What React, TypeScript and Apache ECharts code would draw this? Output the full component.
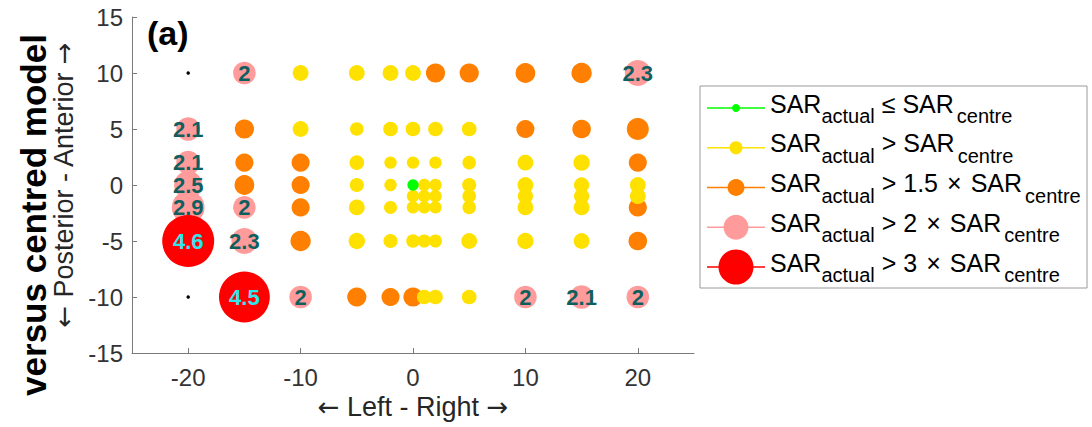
import React, { useEffect, useRef } from "react";
import * as echarts from "echarts";

// ---------- data ----------
const xPositions = [-20, -15, -10, -5, -2, 0, 1, 2, 5, 10, 15, 20];
const yRows = [10, 5, 2, 0, -1, -2, -5, -10];
// SAR_actual / SAR_centre per row (null = no point, 0 = no value, black dot)
const ratioY10 = [0, 2.0, 1.4, 1.4, 1.4, 1.4, null, 1.7, 1.7, 1.75, 1.8, 2.3];
const ratioY5 = [2.1, 1.7, 1.4, 1.2, 1.3, 1.3, null, 1.3, 1.3, 1.6, 1.65, 1.95];
const ratioY2 = [2.1, 1.6, 1.6, 1.3, 1.1, 1.1, null, 1.1, 1.2, 1.4, 1.45, 1.6];
const ratioY0 = [2.5, 1.75, 1.6, 1.25, 1.1, 1.0, 1.1, 1.1, 1.25, 1.4, 1.35, 1.4];
const ratioYm1 = [null, null, null, null, null, 1.1, 1.1, 1.1, 1.2, 1.35, 1.35, 1.4];
const ratioYm2 = [2.9, 2.0, 1.6, 1.4, 1.15, 1.1, 1.1, 1.1, 1.2, 1.4, 1.4, 1.6];
const ratioYm5 = [4.6, 2.3, 1.8, 1.45, 1.25, 1.2, 1.15, 1.15, 1.4, 1.45, 1.4, 1.65];
const ratioYm10 = [0, 4.5, 2.0, 1.7, 1.6, 1.7, 1.3, 1.3, 1.3, 2.0, 2.1, 2.0];
const ratioRows = [ratioY10, ratioY5, ratioY2, ratioY0, ratioYm1, ratioYm2, ratioYm5, ratioYm10];

const xTickValues = [-20, -10, 0, 10, 20];
const xAxisTitle = "{arr|\u2190} Left - Right {arr|\u2192}";
const yAxisTitle = "{arr|\u2190} Posterior - Anterior {arr|\u2192}";
const sideTitle = "versus centred model";
const panelTag = "(a)";

const legendRelations = [
  " \u2264 SAR",
  " > SAR",
  " > 1.5 \u200a\u00d7\u200a SAR",
  " > 2 \u200a\u00d7\u200a SAR",
  " > 3 \u200a\u00d7\u200a SAR",
];

// ---------- styles ----------
const FONT = '"Liberation Sans", Arial, Helvetica, sans-serif';
const C_GREEN = "#00ff00";
const C_YELLOW = "#ffe100";
const C_ORANGE = "#ff8000";
const C_PINK = "#ff9b9b";
const C_RED = "#ff0000";
const SIZE_PER_UNIT = 11.3;

type Pt = [number, number, number];

function buildPoints() {
  const groups: Record<string, Pt[]> = { missing: [], green: [], yellow: [], orange: [], pink: [], red: [] };
  yRows.forEach((y, ri) => {
    ratioRows[ri].forEach((v, xi) => {
      if (v === null || v === undefined) return;
      const p: Pt = [xPositions[xi], y, v];
      if (v === 0) groups.missing.push(p);
      else if (v <= 1) groups.green.push(p);
      else if (v >= 3) groups.red.push(p);
      else if (v >= 2) groups.pink.push(p);
      else if (v >= 1.5) groups.orange.push(p);
      else groups.yellow.push(p);
    });
  });
  return groups;
}

const fmt = (v: number) => String(Math.round(v * 10) / 10);

export default function App() {
  const ref = useRef<HTMLDivElement>(null);
  useEffect(() => {
    if (!ref.current) return;
    const chart = echarts.init(ref.current, undefined, { renderer: "svg" });
    const g = buildPoints();

    const canvas = document.createElement("canvas");
    const ctx = canvas.getContext("2d")!;
    const measure = (t: string, size: number) => {
      ctx.font = `${size}px "Liberation Sans"`;
      return ctx.measureText(t).width;
    };

    const scatter = (name: string, data: Pt[], color: string, extra: any = {}) => ({
      type: "scatter",
      name,
      data,
      symbol: "circle",
      symbolSize: (d: Pt) => d[2] * SIZE_PER_UNIT,
      itemStyle: { color, opacity: 1 },
      emphasis: { disabled: true },
      silent: true,
      ...extra,
    });

    const labelStyle = (color: string) => ({
      show: true,
      position: "inside",
      formatter: (p: any) => fmt(p.value[2]),
      color,
      fontFamily: FONT,
      fontWeight: "bold",
      fontSize: 22,
      lineHeight: 20,
    });

    const arrowRich = { arr: { fontFamily: '"DejaVu Sans", sans-serif', fontSize: 26, color: "#262626" } };

    // legend graphics
    const legendColors = [C_GREEN, C_YELLOW, C_ORANGE, C_PINK, C_RED];
    const legendMarker = [8, 13, 17, 25, 35];
    const lgX = 700, lgY = 86, lgW = 387, lgH = 202;
    const rowY0 = 108, rowStep = 39.75;
    const MAIN = 25, SUB = 20;
    const legendEls: any[] = [
      { type: "rect", shape: { x: lgX, y: lgY, width: lgW, height: lgH }, style: { fill: "#fff", stroke: "#9a9a9a", lineWidth: 1 }, z: 10 },
    ];
    legendRelations.forEach((rel, i) => {
      const cy = rowY0 + i * rowStep;
      legendEls.push({ type: "line", shape: { x1: 707, y1: cy, x2: 765, y2: cy }, style: { stroke: legendColors[i], lineWidth: 1.5 }, z: 11 });
      legendEls.push({ type: "circle", shape: { cx: 736, cy, r: legendMarker[i] / 2 }, style: { fill: legendColors[i] }, z: 12 });
      const pieces: [string, boolean][] = [["SAR", false], ["actual", true], [rel, false], ["centre", true]];
      let x = 770;
      pieces.forEach(([t, sub]) => {
        const size = sub ? SUB : MAIN;
        const w = measure(t, size);
        legendEls.push({
          type: "text",
          x,
          y: sub ? cy + 8 : cy - 4.5,
          z: 12,
          style: {
            text: t,
            fontSize: size,
            fontFamily: FONT,
            fill: "#000",
            align: "left",
            textAlign: "left",
            verticalAlign: "middle",
            textVerticalAlign: "middle",
          },
        });
        x += w + (t.startsWith(" ") ? 3 : 0);
      });
    });

    const option: any = {
      animation: false,
      backgroundColor: "#fff",
      grid: { left: 132, top: 17, width: 562, height: 336, containLabel: false },
      xAxis: {
        type: "value",
        min: -25,
        max: 25,
        name: xAxisTitle,
        nameLocation: "middle",
        nameGap: 39,
        nameTextStyle: { fontFamily: FONT, fontSize: 27, color: "#262626", rich: arrowRich },
        axisLine: { show: true, onZero: false, lineStyle: { color: "#7a7a7a", width: 1 } },
        axisTick: { show: true, inside: true, length: 5, customValues: xTickValues, lineStyle: { color: "#7a7a7a" } },
        axisLabel: { customValues: xTickValues, fontFamily: FONT, fontSize: 24, color: "#333", margin: 12 },
        splitLine: { show: false },
      },
      yAxis: {
        type: "value",
        min: -15,
        max: 15,
        interval: 5,
        name: yAxisTitle,
        nameLocation: "middle",
        nameGap: 52,
        nameTextStyle: { fontFamily: FONT, fontSize: 27, color: "#262626", rich: arrowRich },
        axisLine: { show: true, onZero: false, lineStyle: { color: "#7a7a7a", width: 1 } },
        axisTick: { show: true, inside: true, length: 5, lineStyle: { color: "#7a7a7a" } },
        axisLabel: { fontFamily: FONT, fontSize: 24, color: "#333", margin: 9 },
        splitLine: { show: false },
      },
      series: [
        scatter("SAR_actual > 1.5 × SAR_centre", g.orange, C_ORANGE),
        scatter("SAR_actual > SAR_centre", g.yellow, C_YELLOW),
        scatter("SAR_actual ≤ SAR_centre", g.green, C_GREEN),
        scatter("SAR_actual > 2 × SAR_centre", g.pink, C_PINK, { label: labelStyle("#0f5f5f") }),
        scatter("SAR_actual > 3 × SAR_centre", g.red, C_RED, { label: labelStyle("#30e6ec") }),
        { ...scatter("no value", g.missing, "#000"), symbolSize: 3.5 },
      ],
      graphic: [
        {
          type: "text",
          x: 33,
          y: 215,
          rotation: Math.PI / 2,
          style: {
            text: sideTitle,
            fontSize: 35,
            fontWeight: "bold",
            fontFamily: FONT,
            fill: "#000",
            align: "center",
            textAlign: "center",
            verticalAlign: "middle",
            textVerticalAlign: "middle",
          },
        },
        {
          type: "text",
          x: 147,
          y: 33,
          style: {
            text: panelTag,
            fontSize: 34,
            fontWeight: "bold",
            fontFamily: FONT,
            fill: "#000",
            align: "left",
            textAlign: "left",
            verticalAlign: "middle",
            textVerticalAlign: "middle",
          },
        },
        ...legendEls,
      ],
    };
    chart.setOption(option);
    return () => chart.dispose();
  }, []);
  return <div ref={ref} style={{ width: 1092, height: 427, position: "absolute", left: 0, top: 0 }} />;
}
